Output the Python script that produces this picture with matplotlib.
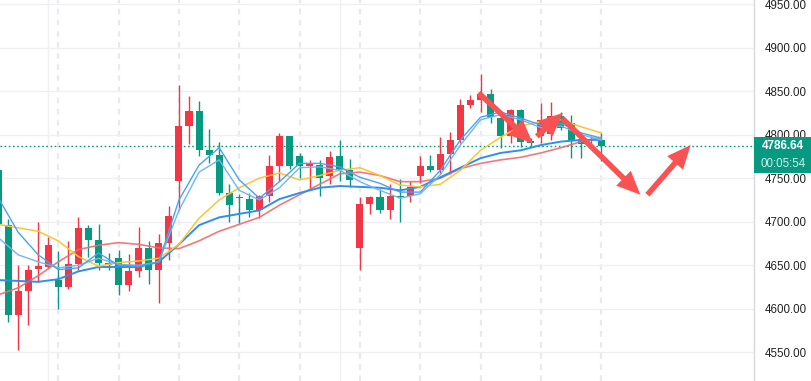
import numpy as np
import matplotlib
matplotlib.use("Agg")
import matplotlib.pyplot as plt
from matplotlib.patches import Rectangle, FancyArrowPatch
import matplotlib.transforms as mtransforms

# candles (red = up, green = down)
opens = [4759, 4696, 4593, 4621, 4646, 4648, 4633, 4625, 4651, 4693,
         4679, 4653, 4658, 4627, 4643, 4670, 4644, 4675, 4747, 4810,
         4827, 4782, 4777, 4733, 4727.5, 4726, 4713, 4729, 4764, 4798,
         4775, 4764.5, 4765, 4752, 4775, 4759, 4670, 4720, 4728, 4713,
         4730, 4730, 4752, 4764, 4759, 4778, 4794, 4834, 4840, 4847,
         4819, 4798, 4828, 4793, 4798, 4801, 4821, 4813, 4794, 4794, 4794]
highs = [4765, 4703, 4650, 4650, 4700, 4682, 4666, 4678, 4705, 4696,
         4697, 4664, 4668, 4663, 4694, 4678, 4686, 4718, 4857, 4844,
         4839, 4806, 4791, 4743, 4732, 4733, 4731, 4777, 4802, 4799,
         4779, 4771, 4771, 4781, 4794, 4772, 4728, 4730, 4738, 4743,
         4749, 4747, 4775, 4777, 4797, 4803, 4841, 4846, 4870, 4852,
         4825, 4829, 4830, 4796, 4836, 4838, 4826, 4823, 4802, 4798, 4802]
lows = [4690, 4585, 4553, 4581, 4631, 4647, 4600, 4623, 4644, 4659,
        4645, 4645, 4616, 4620, 4636, 4629, 4607, 4656, 4713, 4789,
        4776, 4767, 4731, 4700, 4698, 4705, 4704, 4723, 4747, 4761,
        4750, 4738, 4730, 4743, 4747, 4740, 4644, 4709, 4710, 4703,
        4700, 4723, 4745, 4757, 4755, 4755, 4790, 4831, 4826, 4813,
        4785, 4790, 4786, 4787, 4790, 4794, 4805, 4773, 4773, 4790, 4770]
closes = [4697, 4593, 4620, 4644, 4649, 4673, 4625, 4651, 4693, 4679,
          4653, 4650, 4627, 4643, 4670, 4644, 4676, 4706, 4810, 4827,
          4782, 4777, 4733, 4719, 4727, 4713, 4729, 4764, 4798, 4764,
          4764, 4765.5, 4750, 4774, 4759, 4748, 4720, 4728, 4713, 4730,
          4728.5, 4740, 4764, 4759, 4778, 4794, 4834, 4840, 4847, 4820,
          4798, 4828, 4792, 4790, 4817, 4821, 4808, 4794, 4789, 4795, 4786.64]

# moving-average lines, read every second candle
ma_idx = list(range(0, 61, 2))
ma_fast_a = [4728, 4688, 4662, 4645, 4647, 4664, 4650, 4649, 4654, 4725, 4765,
             4785, 4748, 4727, 4746, 4767, 4767, 4763, 4751, 4744, 4734, 4734,
             4759, 4794, 4820, 4826, 4819, 4811, 4813, 4802, 4796]
ma_fast_b = [4682, 4662, 4654, 4647, 4650, 4658, 4651, 4650, 4654, 4713, 4757,
             4771, 4736, 4725, 4739, 4762, 4763, 4759, 4746, 4736, 4727, 4732,
             4754, 4788, 4817, 4823, 4817, 4808, 4810, 4800, 4794]
ma_yellow = [4697, 4693, 4689, 4678, 4660, 4649, 4653, 4655, 4658, 4674, 4704,
             4725, 4739, 4750, 4756, 4748, 4753, 4759, 4762, 4753, 4742, 4740,
             4743, 4759, 4782, 4797, 4810, 4815, 4817, 4809, 4802]
ma_blue = [4633, 4632, 4631, 4634, 4643, 4648, 4648, 4648, 4654, 4674, 4696,
           4705, 4709, 4713, 4726, 4733, 4739, 4741, 4740, 4739, 4736, 4740,
           4751, 4762, 4773, 4779, 4782, 4788, 4792, 4794, 4794]
ma_red = [4616, 4624, 4638, 4654, 4668, 4673, 4676, 4674, 4670, 4669, 4678,
          4689, 4697, 4705, 4719, 4731, 4743, 4755, 4757, 4753, 4746, 4746,
          4750, 4761, 4767, 4771, 4774, 4779, 4785, 4792, 4797]

y_ticks = [4550, 4600, 4650, 4700, 4750, 4800, 4850, 4900, 4950]
last_price = closes[-1]
countdown = "00:05:54"

# hand-drawn arrows (index, price)
arrows = [((47.8, 4848), (53.2, 4790)),
          ((53.6, 4798), (56.2, 4825)),
          ((56.1, 4819), (63.9, 4731)),
          ((64.6, 4731), (68.9, 4788))]

UP, DOWN = "#f23645", "#089981"
W, H = 812, 381

fig = plt.figure(figsize=(W / 100, H / 100), dpi=100, facecolor="white")
ax = fig.add_axes([0, 0, 754 / W, 1])
ax.set_xlim(0.2, 75.2)
ax.set_ylim(4517.1, 4954.6)
ax.set_axisbelow(True)

for s in ("top", "left", "bottom"):
    ax.spines[s].set_visible(False)
ax.spines["right"].set_color("#d6d6e3")
ax.spines["right"].set_linewidth(1)
ax.set_xticks([])
ax.yaxis.tick_right()
ax.set_yticks(y_ticks)
ax.set_yticklabels([f"{v:.2f}" for v in y_ticks])
ax.tick_params(axis="y", length=0, pad=8, labelsize=8.3, labelcolor="#222222")
for lb in ax.get_yticklabels():
    lb.set_family("Liberation Sans")
ax.grid(axis="y", color="#f0f0f4", lw=1)

# vertical grid
for i in range(6, 61, 6):
    ax.axvline(i, color="#e9e9f0", lw=1.6, ls=(0, (2.5, 2.5)), zorder=0)
for i in (5, 34):
    ax.axvline(i, color="#f0f0f5", lw=1, zorder=0)

# candles
x = np.arange(len(closes))
o, h, l, c = map(np.asarray, (opens, highs, lows, closes))
col = np.where(c >= o, UP, DOWN)
ax.vlines(x, l, h, colors=col, lw=1, zorder=3)
body_lo = np.minimum(o, c)
body_h = np.maximum(np.abs(c - o), 1.3)
ax.bar(x, body_h, bottom=body_lo, width=0.7, color=col, lw=0, zorder=3)

# moving averages
ax.plot(ma_idx, ma_red, color="#f26b6b", lw=1.2, alpha=0.9, zorder=4)
ax.plot(ma_idx, ma_blue, color="#2d8ff0", lw=1.4, zorder=4)
ax.plot(ma_idx, ma_yellow, color="#fcc531", lw=1.1, zorder=4)
ax.plot(ma_idx, ma_fast_b, color="#6fb6f5", lw=1.0, zorder=4)
ax.plot(ma_idx, ma_fast_a, color="#4aa3f0", lw=1.0, zorder=4)

# last price line
ax.axhline(last_price, color=DOWN, lw=1, ls=(0, (1.2, 1.8)), zorder=2)

# arrows
for (x0, y0), (x1, y1) in arrows:
    ax.add_patch(FancyArrowPatch((x0, y0), (x1, y1),
                                 arrowstyle="simple,head_length=17,head_width=15,tail_width=4",
                                 mutation_scale=1, color="#fa5252", lw=0, zorder=6,
                                 shrinkA=0, shrinkB=0))

# price label box
tr = mtransforms.blended_transform_factory(ax.transAxes, ax.transData)
box_top = last_price + 10.4
box_bot = last_price - 30.9
ax.add_patch(Rectangle((1.0, box_bot), 58 / 754, box_top - box_bot, transform=tr,
                       facecolor=DOWN, edgecolor="none", clip_on=False, zorder=10))
xm = 1.0 + 29 / 754
ax.text(xm, last_price, f"{last_price:.2f}", transform=tr, ha="center", va="center",
        color="white", fontsize=8.5, fontweight="bold", family="Liberation Sans",
        zorder=11, clip_on=False)
ax.text(xm, last_price - 20.2, countdown, transform=tr, ha="center", va="center",
        color="#cdeee6", fontsize=8.3, family="Liberation Sans", zorder=11, clip_on=False)

fig.savefig("out.png", dpi=100, facecolor="white")
